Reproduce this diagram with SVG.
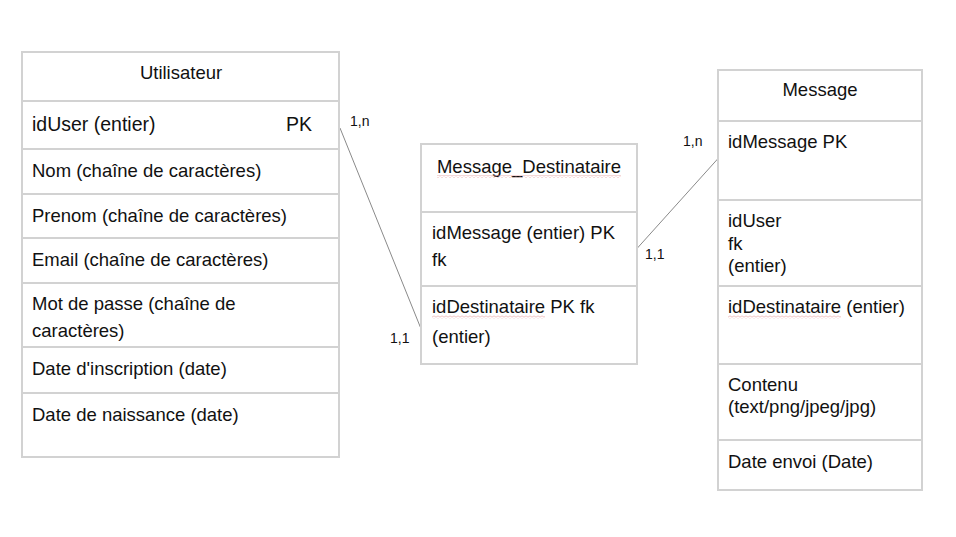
<svg xmlns="http://www.w3.org/2000/svg" width="956" height="537" viewBox="0 0 956 537">
  <defs>
    <style>
      .box { fill: #ffffff; stroke: #d2d2d2; stroke-width: 2; }
      .sep { stroke: #d2d2d2; stroke-width: 2; fill: none; }
      .t { font-family: "Liberation Sans", Arial, sans-serif; font-size: 18.5px; fill: #111111; }
      .tb { font-family: "Liberation Sans", Arial, sans-serif; font-size: 19.5px; fill: #111111; }
      .c { text-anchor: middle; }
      .card { font-family: "Liberation Sans", Arial, sans-serif; font-size: 14px; fill: #111111; }
      .link { stroke: #8a8a8a; stroke-width: 1; fill: none; }
    </style>
    <pattern id="squig" x="0" y="0" width="4" height="3" patternUnits="userSpaceOnUse">
      <path d="M0,2.5 L2,0.5 L4,2.5" fill="none" stroke="#e59a9a" stroke-width="0.8"/>
    </pattern>
  </defs>
  <rect width="956" height="537" fill="#ffffff"/>

  <g id="connectors">
    <line class="link" x1="340" y1="128" x2="421.5" y2="330"/>
    <line class="link" x1="637" y1="248.5" x2="718.5" y2="158"/>
    <text class="card" x="350" y="126">1,n</text>
    <text class="card" x="390" y="343">1,1</text>
    <text class="card" x="683" y="146">1,n</text>
    <text class="card" x="645" y="259">1,1</text>
  </g>

  <g id="utilisateur">
    <rect class="box" x="22" y="52" width="317" height="405"/>
    <line class="sep" x1="22" y1="101" x2="339" y2="101"/>
    <line class="sep" x1="22" y1="149" x2="339" y2="149"/>
    <line class="sep" x1="22" y1="194" x2="339" y2="194"/>
    <line class="sep" x1="22" y1="238" x2="339" y2="238"/>
    <line class="sep" x1="22" y1="283" x2="339" y2="283"/>
    <line class="sep" x1="22" y1="347" x2="339" y2="347"/>
    <line class="sep" x1="22" y1="393" x2="339" y2="393"/>
    <text class="t c" x="181" y="79">Utilisateur</text>
    <text class="tb" x="32" y="131">idUser (entier)</text>
    <text class="tb" x="286" y="131">PK</text>
    <text class="t" x="32" y="177">Nom (chaîne de caractères)</text>
    <text class="t" x="32" y="222">Prenom (chaîne de caractères)</text>
    <text class="t" x="32" y="266">Email (chaîne de caractères)</text>
    <text class="t" x="32" y="310">Mot de passe (chaîne de</text>
    <text class="t" x="32" y="337">caractères)</text>
    <text class="t" x="32" y="375">Date d'inscription (date)</text>
    <text class="t" x="32" y="421">Date de naissance (date)</text>
  </g>

  <g id="message_destinataire">
    <rect class="box" x="421" y="144" width="216" height="220"/>
    <line class="sep" x1="421" y1="212" x2="637" y2="212"/>
    <line class="sep" x1="421" y1="286" x2="637" y2="286"/>
    <text class="t c" x="529" y="173">Message_Destinataire</text>
    <rect x="437" y="175" width="184" height="3" fill="url(#squig)"/>
    <text class="t" x="432" y="239">idMessage (entier) PK</text>
    <text class="t" x="432" y="266">fk</text>
    <text class="t" x="432" y="313">idDestinataire PK fk</text>
    <rect x="432" y="315.5" width="113" height="3" fill="url(#squig)"/>
    <text class="t" x="432" y="343">(entier)</text>
  </g>

  <g id="message">
    <rect class="box" x="718" y="70" width="204" height="420"/>
    <line class="sep" x1="718" y1="121" x2="922" y2="121"/>
    <line class="sep" x1="718" y1="200" x2="922" y2="200"/>
    <line class="sep" x1="718" y1="286" x2="922" y2="286"/>
    <line class="sep" x1="718" y1="364" x2="922" y2="364"/>
    <line class="sep" x1="718" y1="440" x2="922" y2="440"/>
    <text class="t c" x="820" y="96">Message</text>
    <text class="t" x="728" y="148">idMessage PK</text>
    <text class="t" x="728" y="227">idUser</text>
    <text class="t" x="728" y="250">fk</text>
    <text class="t" x="728" y="272">(entier)</text>
    <text class="t" x="728" y="313">idDestinataire (entier)</text>
    <rect x="728" y="315.5" width="113" height="3" fill="url(#squig)"/>
    <text class="t" x="728" y="391">Contenu</text>
    <text class="t" x="728" y="413">(text/png/jpeg/jpg)</text>
    <text class="t" x="728" y="468">Date envoi (Date)</text>
  </g>
</svg>
